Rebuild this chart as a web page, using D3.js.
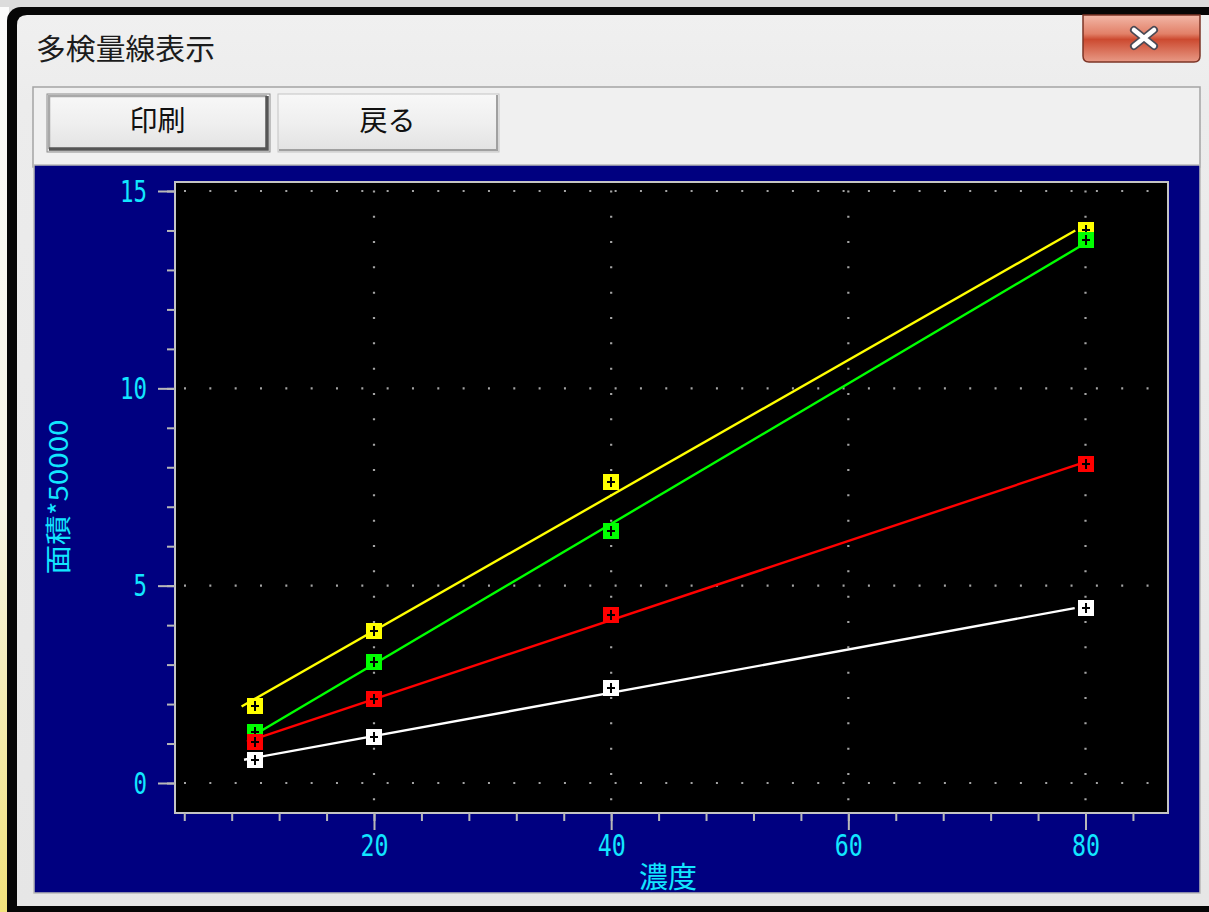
<!DOCTYPE html>
<html>
<head>
<meta charset="utf-8">
<script src="https://cdn.jsdelivr.net/npm/d3@7"></script>
<style>
  body { margin: 0; background: #dedede; }
  svg { display: block; }
</style>
</head>
<body>
<script>
// Calibration data: concentration vs. peak area (area / 50000)
const concentrations = [10, 20, 40, 80];
const yellowAreas = [1.94, 3.86, 7.63, 14.0];
const greenAreas  = [1.29, 3.07, 6.38, 13.75];
const redAreas    = [1.05, 2.12, 4.26, 8.08];
const whiteAreas  = [0.59, 1.17, 2.41, 4.43];

const seriesValues = [yellowAreas, greenAreas, redAreas, whiteAreas];
const seriesColors = ["#ffff00", "#00ff00", "#ff0000", "#ffffff"];

const xMajorTicks = [20, 40, 60, 80];
const xMinorTicks = d3.range(4, 85, 4);
const yMajorTicks = [0, 5, 10, 15];
const yMinorTicks = d3.range(0, 16, 1);

const windowTitle = "多検量線表示";
const buttonLabels = ["印刷", "戻る"];
const xAxisTitle = "濃度";
const yAxisTitle = "面積*50000";

const W = 1209, H = 912;
const plot = { left: 175, top: 182, right: 1168, bottom: 813 };
const cyan = "#12e6ff";

const svg = d3.select("body").append("svg")
  .attr("width", W).attr("height", H);
const defs = svg.append("defs");

function vGradient(id, stops) {
  const g = defs.append("linearGradient").attr("id", id)
    .attr("x1", 0).attr("y1", 0).attr("x2", 0).attr("y2", 1);
  stops.forEach(([o, c]) => g.append("stop").attr("offset", o).attr("stop-color", c));
}
vGradient("edgeGlow", [["0%", "#fbfbfb"], ["55%", "#f7f5e6"], ["100%", "#f2e27a"]]);
vGradient("faceFill", [["0%", "#f0f0f0"], ["10%", "#ececec"], ["100%", "#e6e6e6"]]);
vGradient("closeFill", [["0%", "#f2b8a8"], ["40%", "#e28068"], ["52%", "#cc4a30"], ["100%", "#e89a86"]]);
vGradient("btnFill", [["0%", "#f8f8f8"], ["50%", "#efefef"], ["100%", "#e2e2e2"]]);

// ---- desktop edge and window frame ----
svg.append("rect").attr("width", W).attr("height", H).attr("fill", "#dcdcdc");
svg.append("rect").attr("x", 0).attr("y", 7).attr("width", 9).attr("height", H)
  .attr("fill", "url(#edgeGlow)");
svg.append("rect").attr("x", 7).attr("y", 7).attr("width", W + 30).attr("height", H + 30)
  .attr("rx", 14).attr("fill", "#060606");
svg.append("path")
  .attr("d", `M17,25 Q17,15 27,15 H${W} V906 H17 Z`)
  .attr("fill", "url(#faceFill)");

// title
svg.append("text")
  .attr("x", 36).attr("y", 60)
  .attr("font-family", "'Noto Sans CJK JP', sans-serif")
  .attr("font-size", 29)
  .attr("textLength", 179).attr("lengthAdjust", "spacingAndGlyphs")
  .attr("fill", "#1c1c1c")
  .text(windowTitle);

// close button
const close = svg.append("g");
close.append("path")
  .attr("d", "M1083,15 V56 Q1083,62 1089,62 H1194 Q1200,62 1200,56 V15 Z")
  .attr("fill", "url(#closeFill)").attr("stroke", "#7c3426").attr("stroke-width", 1.5);
const xMark = "M1134,30 L1154,46 M1154,30 L1134,46";
close.append("path").attr("d", xMark).attr("stroke", "#4a4a55").attr("stroke-width", 8)
  .attr("stroke-linecap", "round").attr("fill", "none");
close.append("path").attr("d", xMark).attr("stroke", "#ffffff").attr("stroke-width", 4.5)
  .attr("stroke-linecap", "round").attr("fill", "none");

// toolbar panel
svg.append("rect").attr("x", 33).attr("y", 87).attr("width", 1167).attr("height", 80)
  .attr("fill", "#f0f0f0").attr("stroke", "#a4a4a4").attr("stroke-width", 1.5);

// buttons
const buttons = [
  { x: 47, y: 94, w: 223, h: 58, focused: true },
  { x: 278, y: 94, w: 221, h: 58, focused: false }
];
buttons.forEach((b, i) => {
  const g = svg.append("g");
  g.append("rect").attr("x", b.x).attr("y", b.y).attr("width", b.w).attr("height", b.h)
    .attr("fill", "url(#btnFill)").attr("stroke", b.focused ? "#8c8c8c" : "#c4c4c4").attr("stroke-width", 1);
  if (b.focused) {
    g.append("path")
      .attr("d", `M${b.x + 2},${b.y + b.h - 3} V${b.y + 2} H${b.x + b.w - 3}`)
      .attr("fill", "none").attr("stroke", "#a8a8a8").attr("stroke-width", 2.5);
    g.append("path")
      .attr("d", `M${b.x + 2},${b.y + b.h - 3} H${b.x + b.w - 3} V${b.y + 2}`)
      .attr("fill", "none").attr("stroke", "#555555").attr("stroke-width", 3.5);
  } else {
    g.append("path")
      .attr("d", `M${b.x + 1},${b.y + b.h - 2} H${b.x + b.w - 2} V${b.y + 1}`)
      .attr("fill", "none").attr("stroke", "#a0a0a0").attr("stroke-width", 2);
  }
  g.append("text")
    .attr("x", b.x + b.w / 2 - 1).attr("y", b.y + 37)
    .attr("text-anchor", "middle")
    .attr("font-family", "'Noto Sans CJK JP', sans-serif")
    .attr("font-size", 28)
    .attr("fill", "#111")
    .text(buttonLabels[i]);
});

// navy chart panel
svg.append("rect").attr("x", 34).attr("y", 165).attr("width", 1166).attr("height", 728)
  .attr("fill", "#000080").attr("stroke", "#b8b8b8").attr("stroke-width", 1.5);

// ---- scales ----
const x = d3.scaleLinear().domain([20, 80]).range([374, 1085.5]);
const y = d3.scaleLinear().domain([0, 15]).range([783, 191]);

// plotting area
svg.append("rect")
  .attr("x", plot.left).attr("y", plot.top)
  .attr("width", plot.right - plot.left).attr("height", plot.bottom - plot.top)
  .attr("fill", "#000").attr("stroke", "#c4c4c4").attr("stroke-width", 2);

// dotted grid
const dotPattern = "2 23.33";
const grid = svg.append("g").attr("stroke", "#a4a4a4").attr("stroke-width", 2.2);
yMajorTicks.forEach(v => {
  grid.append("line")
    .attr("x1", 184).attr("x2", plot.right - 6)
    .attr("y1", y(v)).attr("y2", y(v))
    .attr("stroke-dasharray", dotPattern);
});
xMajorTicks.forEach(v => {
  grid.append("line")
    .attr("x1", x(v)).attr("x2", x(v))
    .attr("y1", 800.3).attr("y2", plot.top + 4)
    .attr("stroke-dasharray", dotPattern);
});

// axes
function styleAxis(g) {
  g.select(".domain").remove();
  g.selectAll(".tick line").attr("stroke", "#b8b8b8").attr("stroke-width", 2);
}
const labelFont = "'DejaVu Sans Mono', monospace";

const yMinor = svg.append("g").attr("transform", `translate(${plot.left},0)`)
  .call(d3.axisLeft(y).tickValues(yMinorTicks).tickSize(8).tickFormat(""));
styleAxis(yMinor);
const yMajor = svg.append("g").attr("transform", `translate(${plot.left},0)`)
  .call(d3.axisLeft(y).tickValues(yMajorTicks).tickSize(17).tickFormat(d3.format("d")));
styleAxis(yMajor);
yMajor.selectAll(".tick text")
  .attr("x", -28).attr("dy", null).attr("y", 10)
  .attr("text-anchor", "end")
  .attr("font-family", labelFont).attr("font-size", 30)
  .attr("fill", cyan)
  .attr("textLength", d => String(d).length * 13.5)
  .attr("lengthAdjust", "spacingAndGlyphs");

const xMinor = svg.append("g").attr("transform", `translate(0,${plot.bottom})`)
  .call(d3.axisBottom(x).tickValues(xMinorTicks).tickSize(8).tickFormat(""));
styleAxis(xMinor);
const xMajor = svg.append("g").attr("transform", `translate(0,${plot.bottom})`)
  .call(d3.axisBottom(x).tickValues(xMajorTicks).tickSize(17).tickFormat(d3.format("d")));
styleAxis(xMajor);
xMajor.selectAll(".tick text")
  .attr("dy", null).attr("y", 43)
  .attr("text-anchor", "middle")
  .attr("font-family", labelFont).attr("font-size", 30)
  .attr("fill", cyan)
  .attr("textLength", d => String(d).length * 14)
  .attr("lengthAdjust", "spacingAndGlyphs");

// axis titles
svg.append("text")
  .attr("x", 668).attr("y", 888)
  .attr("text-anchor", "middle")
  .attr("font-family", "'Noto Sans CJK JP', sans-serif")
  .attr("font-size", 29)
  .attr("fill", cyan)
  .text(xAxisTitle);

svg.append("text")
  .attr("transform", "translate(56,497) rotate(-90)")
  .attr("text-anchor", "middle")
  .attr("dominant-baseline", "central")
  .attr("font-family", "'Noto Sans CJK JP', sans-serif")
  .attr("font-size", 26)
  .attr("textLength", 155).attr("lengthAdjust", "spacingAndGlyphs")
  .attr("fill", cyan)
  .text(yAxisTitle);

// ---- series: least-squares calibration line + point markers ----
function linearFit(xs, ys) {
  const mx = d3.mean(xs), my = d3.mean(ys);
  let sxy = 0, sxx = 0;
  xs.forEach((xv, i) => { sxy += (xv - mx) * (ys[i] - my); sxx += (xv - mx) ** 2; });
  const slope = sxy / sxx;
  return { slope, intercept: my - slope * mx };
}

const markerSize = 16;
seriesValues.forEach((vals, si) => {
  const color = seriesColors[si];
  const fit = linearFit(concentrations, vals);
  // the fitted line spans the measured response range
  const [yLo, yHi] = d3.extent(vals);
  const ends = [yLo, yHi].map(v => [(v - fit.intercept) / fit.slope, v]);
  svg.append("path")
    .datum(ends)
    .attr("d", d3.line().x(d => x(d[0])).y(d => y(d[1])))
    .attr("fill", "none")
    .attr("stroke", color)
    .attr("stroke-width", 2.4);

  const pts = svg.append("g").selectAll("g")
    .data(concentrations.map((c, i) => [c, vals[i]]))
    .join("g")
    .attr("transform", d => `translate(${Math.round(x(d[0]))},${Math.round(y(d[1]))})`);
  pts.append("rect")
    .attr("x", -markerSize / 2).attr("y", -markerSize / 2)
    .attr("width", markerSize).attr("height", markerSize)
    .attr("fill", color);
  pts.append("path")
    .attr("d", "M-4,0 H4 M0,-5 V5")
    .attr("stroke", "#000").attr("stroke-width", 2.5)
    .attr("shape-rendering", "crispEdges");
});
</script>
</body>
</html>
